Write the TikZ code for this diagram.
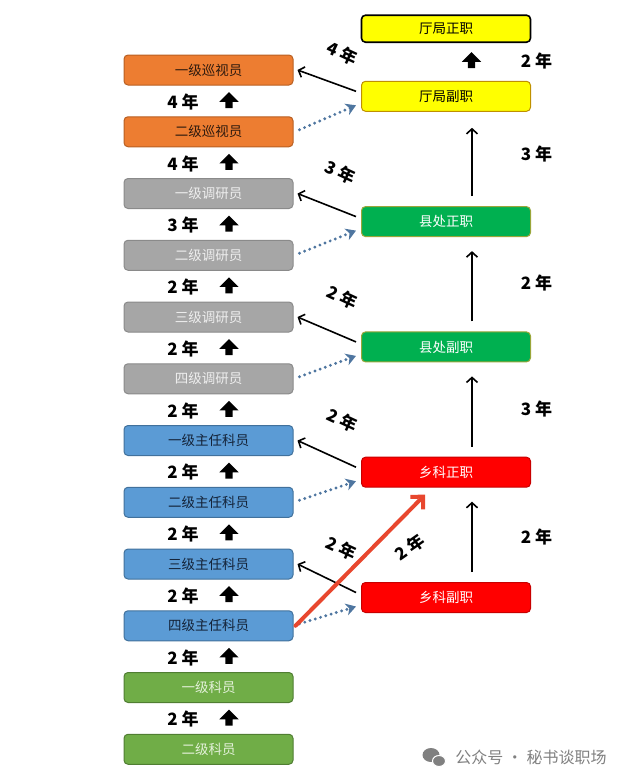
\documentclass[tikz,border=0pt]{standalone}
\usepackage{fontspec}
\setmainfont{Noto Sans CJK SC}
\usepackage{tikz}
\usepackage{xcolor}
\usetikzlibrary{arrows.meta,shapes.arrows}
\definecolor{xsorange}{HTML}{ED7D31}
\definecolor{xsorangeline}{HTML}{B85F22}
\definecolor{xsorangetext}{HTML}{2E1A0E}
\definecolor{dygray}{HTML}{A6A6A6}
\definecolor{dygrayline}{HTML}{8A8A8A}
\definecolor{dygraytext}{HTML}{EEEEEE}
\definecolor{zrblue}{HTML}{5B9BD5}
\definecolor{zrblueline}{HTML}{41719C}
\definecolor{zrbluetext}{HTML}{142338}
\definecolor{kygreen}{HTML}{70AD47}
\definecolor{kygreenline}{HTML}{507E32}
\definecolor{kygreentext}{HTML}{E4F1DA}
\definecolor{tjyellow}{HTML}{FFFF00}
\definecolor{tjyellowline}{HTML}{BF9000}
\definecolor{xcgreen}{HTML}{00B050}
\definecolor{xcgreenline}{HTML}{9AA63A}
\definecolor{xkred}{HTML}{FF0000}
\definecolor{xkredline}{HTML}{C80000}
\definecolor{dotblue}{HTML}{4F76A0}
\definecolor{fastred}{HTML}{E8472E}
\definecolor{markgray}{HTML}{808080}
\tikzset{
    rank-box/.style = {rectangle, rounded corners=4pt, line width=1pt, minimum width=169pt, minimum height=30pt, inner sep=0pt, font=\fontsize{13.5}{16}\selectfont},
    orange-box/.style = {rank-box, fill=xsorange, draw=xsorangeline, text=xsorangetext},
    gray-box/.style = {rank-box, fill=dygray, draw=dygrayline, text=dygraytext},
    blue-box/.style = {rank-box, fill=zrblue, draw=zrblueline, text=zrbluetext},
    lgreen-box/.style = {rank-box, fill=kygreen, draw=kygreenline, text=kygreentext},
    yellow-box/.style = {rank-box, fill=tjyellow, draw=tjyellowline, text=black},
    dgreen-box/.style = {rank-box, fill=xcgreen, draw=xcgreenline, text=white},
    red-box/.style = {rank-box, fill=xkred, draw=xkredline, text=white},
    year-label/.style = {font=\fontsize{17}{20}\selectfont\bfseries, inner sep=0pt},
    up-block/.style = {single arrow, fill=black, draw=none, shape border rotate=90, minimum height=16pt, inner sep=3.5pt, single arrow head extend=6pt},
    back-line/.style = {line width=1.6pt, -{Straight Barb[length=5pt,width=11pt]}},
    up-line/.style = {line width=1.6pt, -{Straight Barb[length=5pt,width=11pt]}},
    cross-line/.style = {draw=dotblue, line width=3.2pt, line cap=round, dash pattern=on 0pt off 5.5pt, -{Stealth[length=10pt,width=12pt,inset=3pt]}},
    fast-line/.style = {draw=fastred, line width=4pt, line cap=round, -{Straight Barb[length=9pt,width=18pt]}},
}

\begin{document}
\begin{tikzpicture}[x=1pt, y=-1pt]
\useasboundingbox (0,0) rectangle (640,782);
% left column
\node [orange-box] (yj1) at (208.5,70) {一级巡视员};
\node [orange-box] (yj2) at (208.5,131.75) {二级巡视员};
\node [gray-box] (dy1) at (208.5,193.5) {一级调研员};
\node [gray-box] (dy2) at (208.5,255.25) {二级调研员};
\node [gray-box] (dy3) at (208.5,317) {三级调研员};
\node [gray-box] (dy4) at (208.5,378.75) {四级调研员};
\node [blue-box] (zr1) at (208.5,440.5) {一级主任科员};
\node [blue-box] (zr2) at (208.5,502.25) {二级主任科员};
\node [blue-box] (zr3) at (208.5,564) {三级主任科员};
\node [blue-box] (zr4) at (208.5,625.75) {四级主任科员};
\node [lgreen-box] (ky1) at (208.5,687.5) {一级科员};
\node [lgreen-box] (ky2) at (208.5,749.25) {二级科员};
% right column
\node [yellow-box, draw=black, line width=1.6pt, minimum height=27pt] (tjz) at (446,28.7) {厅局正职};
\node [yellow-box] (tjf) at (446,96.3) {厅局副职};
\node [dgreen-box] (xcz) at (446,221.6) {县处正职};
\node [dgreen-box] (xcf) at (446,346.9) {县处副职};
\node [red-box] (xkz) at (446,472.2) {乡科正职};
\node [red-box] (xkf) at (446,597.5) {乡科副职};
% years on the left
\node [year-label] (g1) at (183,102) {4 年};
\node [up-block] (u1) at (229,102) {};
\node [year-label] (g2) at (183,163.6) {4 年};
\node [up-block] (u2) at (229,163.6) {};
\node [year-label] (g3) at (183,225.4) {3 年};
\node [up-block] (u3) at (229,225.4) {};
\node [year-label] (g4) at (183,287.1) {2 年};
\node [up-block] (u4) at (229,287.1) {};
\node [year-label] (g5) at (183,348.9) {2 年};
\node [up-block] (u5) at (229,348.9) {};
\node [year-label] (g6) at (183,410.6) {2 年};
\node [up-block] (u6) at (229,410.6) {};
\node [year-label] (g7) at (183,472.4) {2 年};
\node [up-block] (u7) at (229,472.4) {};
\node [year-label] (g8) at (183,534.1) {2 年};
\node [up-block] (u8) at (229,534.1) {};
\node [year-label] (g9) at (183,595.9) {2 年};
\node [up-block] (u9) at (229,595.9) {};
\node [year-label] (g10) at (183,657.6) {2 年};
\node [up-block] (u10) at (229,657.6) {};
\node [year-label] (g11) at (183,719.4) {2 年};
\node [up-block] (u11) at (229,719.4) {};
% years on the right
\node [up-block] (u0) at (471.5,62) {};
\node [year-label] (r1) at (536.5,61) {2 年};
\node [year-label] (r2) at (536.5,154) {3 年};
\node [year-label] (r3) at (536.5,283) {2 年};
\node [year-label] (r4) at (536.5,409) {3 年};
\node [year-label] (r5) at (536.5,537) {2 年};
\draw [up-line] ([xshift=26pt,yshift=10pt]xcz.north) -- ([xshift=26pt,yshift=-16pt]tjf.south);
\draw [up-line] ([xshift=26pt,yshift=10pt]xcf.north) -- ([xshift=26pt,yshift=-14pt]xcz.south);
\draw [up-line] ([xshift=26pt,yshift=10pt]xkz.north) -- ([xshift=26pt,yshift=-14pt]xcf.south);
\draw [up-line] ([xshift=26pt,yshift=10pt]xkf.north) -- ([xshift=26pt,yshift=-14pt]xkz.south);
% across
\draw [back-line] ([xshift=-5pt,yshift=5pt]tjf.west) -- ([xshift=4pt]yj1.east);
\draw [cross-line] ([xshift=6pt,yshift=2pt]yj2.east) -- ([xshift=-5pt,yshift=-9pt]tjf.west);
\draw [back-line] ([xshift=-5pt,yshift=5pt]xcz.west) -- ([xshift=4pt]dy1.east);
\draw [cross-line] ([xshift=6pt,yshift=2pt]dy2.east) -- ([xshift=-5pt,yshift=-9pt]xcz.west);
\draw [back-line] ([xshift=-5pt,yshift=5pt]xcf.west) -- ([xshift=4pt]dy3.east);
\draw [cross-line] ([xshift=6pt,yshift=2pt]dy4.east) -- ([xshift=-5pt,yshift=-9pt]xcf.west);
\draw [back-line] ([xshift=-5pt,yshift=5pt]xkz.west) -- ([xshift=4pt]zr1.east);
\draw [cross-line] ([xshift=6pt,yshift=2pt]zr2.east) -- ([xshift=-5pt,yshift=-9pt]xkz.west);
\draw [back-line] ([xshift=-5pt,yshift=5pt]xkf.west) -- ([xshift=4pt]zr3.east);
\draw [cross-line] ([xshift=6pt,yshift=2pt]zr4.east) -- ([xshift=-5pt,yshift=-9pt]xkf.west);
\draw [fast-line] ([xshift=2pt]zr4.east) -- ([xshift=-21pt,yshift=-7pt]xkz.south);
\node [year-label, rotate=-25] (s1) at (342,53) {4 年};
\node [year-label, rotate=-25] (s2) at (340,172) {3 年};
\node [year-label, rotate=-25] (s3) at (342,297) {2 年};
\node [year-label, rotate=-25] (s4) at (342,420) {2 年};
\node [year-label, rotate=-25] (s5) at (341,548) {2 年};
\node [year-label, rotate=35] (s6) at (410,547) {2 年};
% mark
\fill [markgray] (431,755) ellipse [x radius=8.5, y radius=7];
\draw [markgray, fill=markgray, line width=1pt, draw=white] (439,761) ellipse [x radius=6.5, y radius=5.5];
\node [text=markgray, font=\fontsize{16}{18}\selectfont, inner sep=0pt] (mark) at (531,757) {公众号 · 秘书谈职场};
\end{tikzpicture}
\end{document}
